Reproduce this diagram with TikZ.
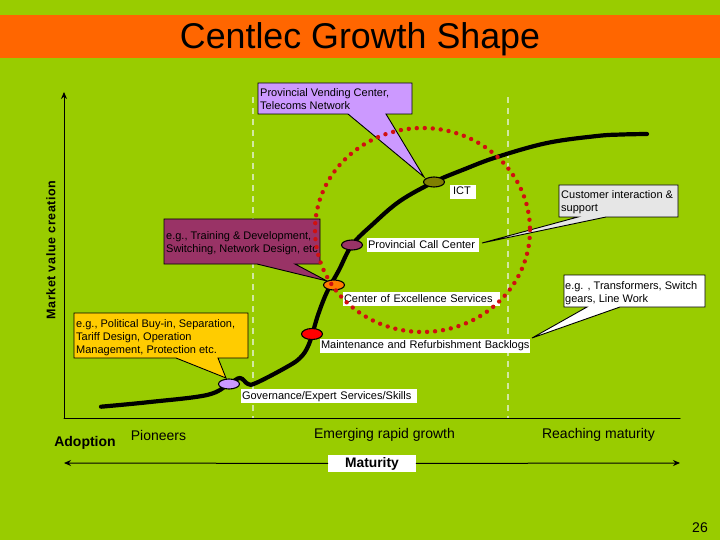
\documentclass[tikz,border=0pt]{standalone}
\usepackage{fontspec}
\setmainfont{Liberation Sans}
\usetikzlibrary{arrows,arrows.meta}
\usetikzlibrary{shapes,positioning}
\definecolor{slidegreen}{RGB}{153,204,0}
\definecolor{barorange}{RGB}{255,102,0}
\definecolor{lilacfill}{RGB}{204,153,255}
\definecolor{plumfill}{RGB}{153,51,102}
\definecolor{goldfill}{RGB}{255,204,0}
\definecolor{greyfill}{RGB}{230,230,230}
\definecolor{olivefill}{RGB}{128,128,0}
\definecolor{ringred}{RGB}{208,16,16}
\definecolor{paledash}{RGB}{210,232,160}
\tikzset{>={Stealth[length=7pt,width=6pt]},
  small/.style={font=\fontsize{11}{13.3}\selectfont,inner sep=0pt,anchor=north west,align=left},
  tag/.style={fill=white,font=\fontsize{11}{12}\selectfont,inner xsep=1pt,inner ysep=0pt,align=left,
    text height=8pt,text depth=2pt,minimum height=14pt},
  stage/.style={font=\fontsize{14}{16}\selectfont},
  tail/.style={draw=black,line width=0.9pt,line join=miter},
  dot/.style={ellipse,draw=black,line width=1.1pt,minimum width=21pt,minimum height=10pt,inner sep=0pt}}

\begin{document}
\begin{tikzpicture}[x=1pt,y=-1pt,line cap=round]

  \useasboundingbox (0,0) rectangle (720,540);
  \fill [slidegreen] (0,0) rectangle (720,540);
  \fill [barorange] (0,15) rectangle (720,58);
  \node (title) at (360,39) {\fontsize{35.8}{38}\selectfont Centlec Growth Shape};

  \coordinate (origin) at (64,418);
  \coordinate (axtop) at (64,92);
  \coordinate (axright) at (680,418);
  \draw [line width=1pt,->] (origin) -- (axtop);
  \draw [line width=1pt] (origin) -- (axright);

  \draw [paledash,line width=2pt,line cap=butt,dash pattern=on 6pt off 5pt] (252.5,97) -- (252.5,418);
  \draw [paledash,line width=2pt,line cap=butt,dash pattern=on 6pt off 5pt] (508,97) -- (508,418);

  \node (market) [rotate=90] at (51,250) {\fontsize{12.5}{14}\selectfont\bfseries\addfontfeature{LetterSpace=5}Market value creation};

  % growth curve
  \coordinate (ptlilac) at (229,384);
  \coordinate (ptred) at (312,334);
  \coordinate (ptorange) at (334,285);
  \coordinate (ptplum) at (352,245);
  \coordinate (ptolive) at (434,182);
  \draw [line width=4.2pt,line join=round] plot [smooth,tension=0.6] coordinates
    {(101,406.7) (150,402) (207,395) (ptlilac) (240,378) (248,384) (256,383) (285,368)
     (300,358) (309,344) (318,315) (327,292) (339,270) (ptplum) (373,224) (400,201)
     (ptolive) (465,169) (497,157) (547,143) (597,136) (622,134.5) (647,134)};

  % callouts
  \coordinate (tipvending) at (424,177);
  \coordinate (tipcustomer) at (482,243);
  \coordinate (tiptrans) at (532,338);
  \coordinate (tiptraining) at (327,281);
  \coordinate (tippolitical) at (226,378);

  \draw [tail,fill=lilacfill] (258,83) -- (412,83) -- (412,114) -- (386,114) -- (tipvending) -- (348,114) -- (258,114) -- cycle;
  \draw [tail,fill=greyfill] (559,185) -- (678,185) -- (678,217) -- (606,217) -- (tipcustomer) -- (578,217) -- (559,217) -- cycle;
  \draw [tail,fill=white] (564,275) -- (705,275) -- (705,307) -- (620,307) -- (tiptrans) -- (587,307) -- (564,307) -- cycle;
  \draw [tail,fill=plumfill] (164,219) -- (320,219) -- (320,264) -- (295,264) -- (tiptraining) -- (257,264) -- (164,264) -- cycle;
  \draw [tail,fill=goldfill] (74,313) -- (248,313) -- (248,358) -- (218,358) -- (tippolitical) -- (176,358) -- (74,358) -- cycle;

  \node (vending) [small] at (260,88) {Provincial Vending Center,\\Telecoms Network};
  \node (customer) [small] at (561,190) {Customer interaction \&\\support};
  \node (trans) [small] at (565,281) {e.g. , Transformers, Switch\\gears, Line Work};
  \node (training) [small] at (166,231) {e.g., Training \& Development,\\Switching, Network Design, etc};
  \node (political) [small] at (76,319) {e.g., Political Buy-in, Separation,\\Tariff Design, Operation\\Management, Protection etc.};

  % white labels
  \node (ict) [tag,inner xsep=3pt,text width=20pt] at (463,192) {ICT};
  \node (call) [tag,text width=110pt] at (423,245) {Provincial Call Center};
  \node (excellence) [tag,text width=155pt] at (421.5,299) {Center of Excellence Services};
  \node (backlogs) [tag,text width=208pt] at (425,345.5) {\mbox{Maintenance and Refurbishment Backlogs}};
  \node (skills) [tag,text width=174pt] at (329,396) {Governance/Expert Services/Skills};

  \node (olive) [dot,fill=olivefill] at (ptolive) {};
  \node (plum) [dot,fill=plumfill] at (ptplum) {};
  \node (orange) [dot,fill=orange!85!barorange] at (ptorange) {};
  \node (red) [dot,fill=red,minimum height=11pt] at (ptred) {};
  \node (lilac) [dot,fill=lilacfill] at (ptlilac) {};

  % dotted ring
  \draw [ringred,line width=4.4pt,dash pattern=on 0pt off 8pt] (422.5,230) ellipse [x radius=107.5,y radius=102];

  % bottom row
  \node (adoption) at (85,443) {\fontsize{14}{16}\selectfont\bfseries Adoption};
  \node (pioneers) [stage] at (158.5,435) {Pioneers};
  \node (emerging) [stage] at (384.5,435) {Emerging rapid growth};
  \node (reaching) [stage] at (598.5,435) {Reaching maturity};

  \coordinate (matleft) at (64,463);
  \coordinate (matright) at (680,463);
  \node (maturity) [fill=white,minimum width=88pt,minimum height=17pt,inner sep=0pt] at (372,463.5) {\fontsize{13.8}{15}\selectfont\bfseries Maturity};
  \draw [line width=1pt,->] (maturity) -- (matleft);
  \draw [line width=1pt,->] (maturity) -- (matright);

  \node (pagenum) at (700,528) {\fontsize{14}{16}\selectfont 26};

\end{tikzpicture}
\end{document}
